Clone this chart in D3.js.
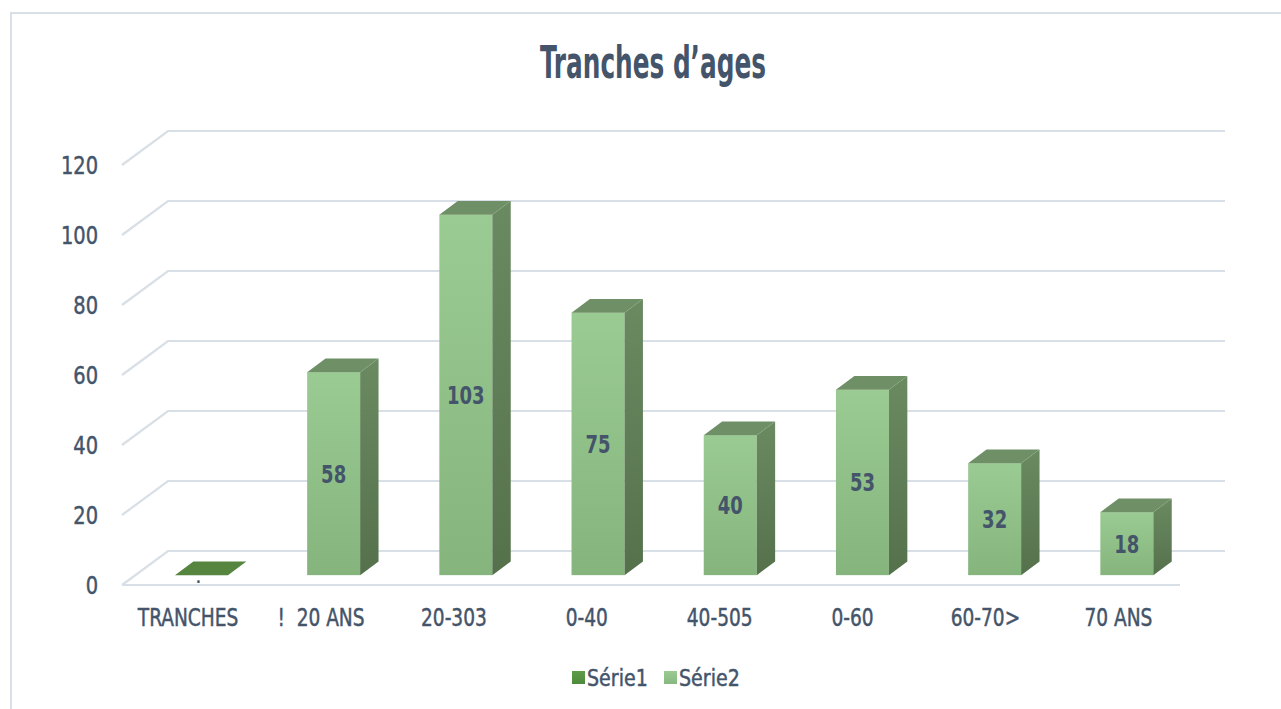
<!DOCTYPE html>
<html><head><meta charset="utf-8">
<script src="https://cdn.jsdelivr.net/npm/d3@7"></script>
<style>
html,body{margin:0;padding:0;background:#fff;}
svg{display:block;}
text{font-family:"DejaVu Sans Condensed","Liberation Sans Narrow",sans-serif;fill:#44546a;}
.med{stroke:#44546a;stroke-width:0.45px;}
</style></head>
<body>
<script>
const categories = ["TRANCHES", "!  20 ANS", "20-303", "0-40", "40-505", "0-60", "60-70>", "70 ANS"];
const serie1 = [0, null, null, null, null, null, null, null];
const serie1Labels = [".", null, null, null, null, null, null, null];
const serie2 = [null, 58, 103, 75, 40, 53, 32, 18];
const yTicks = [0, 20, 40, 60, 80, 100, 120];
const seriesNames = ["Série1", "Série2"];
const title = "Tranches d’ages";

const W = 1281, H = 709;
const svg = d3.select("body").append("svg").attr("width", W).attr("height", H);

function condense(sel, f) {
  sel.each(function () {
    const len = this.getComputedTextLength();
    d3.select(this).attr("textLength", len * f).attr("lengthAdjust", "spacingAndGlyphs");
  });
}

const defs = svg.append("defs");
function grad(id, c1, c2) {
  const g = defs.append("linearGradient").attr("id", id).attr("x1", 0).attr("y1", 0).attr("x2", 0).attr("y2", 1);
  g.append("stop").attr("offset", "0%").attr("stop-color", c1);
  g.append("stop").attr("offset", "100%").attr("stop-color", c2);
}
grad("front2", "#9acb92", "#85b57d");
grad("side2", "#6a8a61", "#55714c");
grad("front1", "#5f9a4a", "#4f8a3c");
grad("leg1", "#5e9c49", "#4f8a3c");
grad("leg2", "#9acb92", "#88b880");

// frame
svg.append("rect").attr("x", 11).attr("y", 13).attr("width", W + 20).attr("height", H + 20)
  .attr("fill", "none").attr("stroke", "#d9dfe6").attr("stroke-width", 2);

// title
svg.append("text").attr("x", 653).attr("y", 78).attr("text-anchor", "middle")
  .attr("font-size", 44).attr("font-weight", "bold")
  .attr("textLength", 226).attr("lengthAdjust", "spacingAndGlyphs")
  .text(title);

// geometry
const floorFront = 585, DX = 46, DY = 34;
const z0 = 0.29, z1 = 0.69;
const x = d3.scaleBand().domain(categories).range([122, 1179.6]).paddingInner(0).paddingOuter(0);
const y = d3.scaleLinear().domain([0, 120]).range([0, 420]);
const px = (xf, z) => xf + z * DX;
const py = (v, z) => floorFront - z * DY - y(v);

// gridlines
const grid = svg.append("g").attr("stroke", "#d9dfe6").attr("stroke-width", 2.2).attr("fill", "none");
yTicks.forEach(v => {
  grid.append("polyline").attr("points",
    [[122, py(v, 0)], [px(122, 1), py(v, 1)], [1225, py(v, 1)]].map(p => p.join(",")).join(" "));
});
grid.append("line").attr("x1", 122).attr("x2", 1180).attr("y1", py(0, 0)).attr("y2", py(0, 0));

// y tick labels
svg.append("g").selectAll("text").data(yTicks).join("text")
  .attr("class", "med")
  .attr("x", 98).attr("y", d => py(d, 0)).attr("dy", "0.36em")
  .attr("text-anchor", "end").attr("font-size", 24).text(d => d)
  .call(condense, 0.9);

// bars
const barW = 53;
function drawBar(g, i, v, frontFill, sideFill, topFill) {
  const xc = x(categories[i]) + x.bandwidth() / 2;
  const xl = xc + z0 * DX - barW / 2;
  const xr = xl + barW;
  const ddx = (z1 - z0) * DX;
  const yb = py(0, z0), yt = py(v, z0);
  const ddy = (z1 - z0) * DY;
  if (v > 0) {
    g.append("rect").attr("x", xl).attr("y", yt).attr("width", barW).attr("height", yb - yt).attr("fill", frontFill);
    g.append("polygon").attr("points",
      [[xr, yt], [xr + ddx, yt - ddy], [xr + ddx, yb - ddy], [xr, yb]].map(p => p.join(",")).join(" "))
      .attr("fill", sideFill);
  }
  g.append("polygon").attr("points",
    [[xl, yt], [xl + ddx, yt - ddy], [xr + ddx, yt - ddy], [xr, yt]].map(p => p.join(",")).join(" "))
    .attr("fill", topFill);
  return {xc: (xl + xr) / 2, yt, yb};
}
const bars = svg.append("g");
serie1.forEach((v, i) => {
  if (v === null) return;
  const b = drawBar(bars, i, v, "url(#front1)", "#3f6e2e", "#56853f");
  if (serie1Labels[i]) {
    svg.append("text").attr("x", b.xc - 3).attr("y", b.yb + 8).attr("text-anchor", "middle")
      .attr("font-size", 14).attr("font-weight", "bold").text(serie1Labels[i]);
  }
});
serie2.forEach((v, i) => {
  if (v === null) return;
  const b = drawBar(bars, i, v, "url(#front2)", "url(#side2)", "#6f9066");
  svg.append("text").attr("x", b.xc).attr("y", (b.yt + b.yb) / 2).attr("dy", "0.36em")
    .attr("text-anchor", "middle").attr("font-size", 25).attr("font-weight", "bold").text(v)
    .call(condense, 0.8);
});

// category labels
svg.append("g").selectAll("text").data(categories).join("text")
  .attr("class", "med")
  .attr("x", (d, i) => x(d) + x.bandwidth() / 2 + i * 0.7).attr("y", 617).attr("dy", "0.36em")
  .attr("text-anchor", "middle").attr("font-size", 24).attr("xml:space", "preserve").text(d => d)
  .call(condense, 0.86);

// legend
const leg = svg.append("g");
const legX = [572, 664];
seriesNames.forEach((s, i) => {
  leg.append("rect").attr("x", legX[i]).attr("y", 671).attr("width", 13).attr("height", 13)
    .attr("fill", i === 0 ? "url(#leg1)" : "url(#leg2)");
  leg.append("text").attr("class", "med").attr("x", legX[i] + 15).attr("y", 678).attr("dy", "0.36em")
    .attr("font-size", 23).text(s).call(condense, 0.92);
});
</script>
</body></html>
